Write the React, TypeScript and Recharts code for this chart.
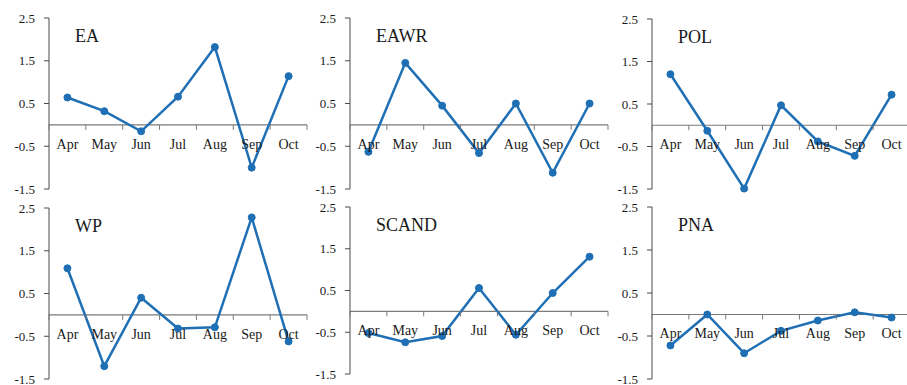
import React from 'react';
import { LineChart, Line, XAxis, YAxis, ReferenceLine } from 'recharts';

// Monthly index values, April to October
const months = ['Apr', 'May', 'Jun', 'Jul', 'Aug', 'Sep', 'Oct'];
const yTicks = [-1.5, -0.5, 0.5, 1.5, 2.5];
const Y_MIN = -1.5;
const Y_MAX = 2.5;

const eaValues = [0.64, 0.32, -0.15, 0.66, 1.82, -1.0, 1.14];
const eawrValues = [-0.63, 1.45, 0.45, -0.66, 0.5, -1.12, 0.5];
const polValues = [1.2, -0.13, -1.49, 0.47, -0.38, -0.72, 0.72];
const wpValues = [1.09, -1.2, 0.4, -0.32, -0.29, 2.28, -0.62];
const scandValues = [-0.52, -0.74, -0.59, 0.56, -0.56, 0.44, 1.31];
const pnaValues = [-0.72, 0.0, -0.9, -0.38, -0.14, 0.05, -0.07];

const LINE_COLOR = '#1f6fb5';
const FONT = '"Liberation Serif", "Times New Roman", serif';

const Y_W = 50;
const PLOT_W = 258;
const X_H = 20;
const M_TOP = 10;
const M_RIGHT = 2;
const M_BOTTOM = 2;

type PanelProps = {
  name: string;
  values: number[];
  plotLeft: number;
  plotTop: number;
  plotBottom: number;
};

function Panel({ name, values, plotLeft, plotTop, plotBottom }: PanelProps) {
  const plotH = plotBottom - plotTop;
  const width = Y_W + PLOT_W + M_RIGHT;
  const height = M_TOP + plotH + X_H + M_BOTTOM;
  const data = months.map((m, i) => ({ month: m, value: values[i] }));
  // distance from the bottom of the plot to the zero line
  const zeroShift = (plotH * (0 - Y_MIN)) / (Y_MAX - Y_MIN);
  const band = PLOT_W / months.length;

  const renderXTick = (p: any) => {
    const zy = p.y - zeroShift;
    const isLast = p.index === months.length - 1;
    return (
      <g key={`x-${p.index}`}>
        <line x1={p.x - band / 2} x2={p.x - band / 2} y1={zy} y2={zy + 5} stroke="#7a7a7a" strokeWidth={1} />
        {isLast && (
          <line x1={p.x + band / 2} x2={p.x + band / 2} y1={zy} y2={zy + 5} stroke="#7a7a7a" strokeWidth={1} />
        )}
        <text
          x={p.x}
          y={zy + 19}
          dy="0.35em"
          textAnchor="middle"
          fontFamily={FONT}
          fontSize={14}
          fill="#1a1a1a"
        >
          {p.payload.value}
        </text>
      </g>
    );
  };

  const renderYTick = (p: any) => (
    <text
      key={`y-${p.index}`}
      x={p.x}
      y={p.y}
      dy="0.35em"
      textAnchor="end"
      fontFamily={FONT}
      fontSize={13}
      fill="#1a1a1a"
    >
      {Number(p.payload.value).toFixed(1)}
    </text>
  );

  return (
    <>
      <div style={{ position: 'absolute', left: plotLeft - Y_W, top: plotTop - M_TOP }}>
        <LineChart
          width={width}
          height={height}
          data={data}
          margin={{ top: M_TOP, right: M_RIGHT, bottom: M_BOTTOM, left: 0 }}
        >
          <XAxis
            dataKey="month"
            scale="band"
            height={X_H}
            axisLine={false}
            tickLine={false}
            tickSize={0}
            tickMargin={0}
            interval={0}
            tick={renderXTick}
          />
          <YAxis
            type="number"
            domain={[Y_MIN, Y_MAX]}
            ticks={yTicks}
            width={Y_W}
            interval={0}
            axisLine={{ stroke: '#4a4a4a', strokeWidth: 1 }}
            tickLine={{ stroke: '#4a4a4a', strokeWidth: 1 }}
            tickSize={5}
            tickMargin={9}
            tick={renderYTick}
          />
          <ReferenceLine y={0} stroke="#7a7a7a" strokeWidth={1.2} />
          <Line
            type="linear"
            dataKey="value"
            stroke={LINE_COLOR}
            strokeWidth={2.5}
            dot={{ r: 3.5, fill: LINE_COLOR, stroke: LINE_COLOR, strokeWidth: 1 }}
            isAnimationActive={false}
          />
        </LineChart>
      </div>
      <div
        style={{
          position: 'absolute',
          left: plotLeft + 26,
          top: plotTop + 9,
          fontFamily: FONT,
          fontSize: 18,
          lineHeight: 1,
          color: '#1a1a1a',
        }}
      >
        {name}
      </div>
    </>
  );
}

export default function App() {
  return (
    <div
      style={{
        position: 'absolute',
        left: 0,
        top: 0,
        width: 907,
        height: 385,
        overflow: 'hidden',
        background: '#ffffff',
      }}
    >
      <Panel name="EA" values={eaValues} plotLeft={49} plotTop={18} plotBottom={189} />
      <Panel name="EAWR" values={eawrValues} plotLeft={350} plotTop={18} plotBottom={189} />
      <Panel name="POL" values={polValues} plotLeft={652} plotTop={19} plotBottom={189} />
      <Panel name="WP" values={wpValues} plotLeft={49} plotTop={208} plotBottom={379} />
      <Panel name="SCAND" values={scandValues} plotLeft={350} plotTop={207} plotBottom={374} />
      <Panel name="PNA" values={pnaValues} plotLeft={652} plotTop={207} plotBottom={379} />
    </div>
  );
}
